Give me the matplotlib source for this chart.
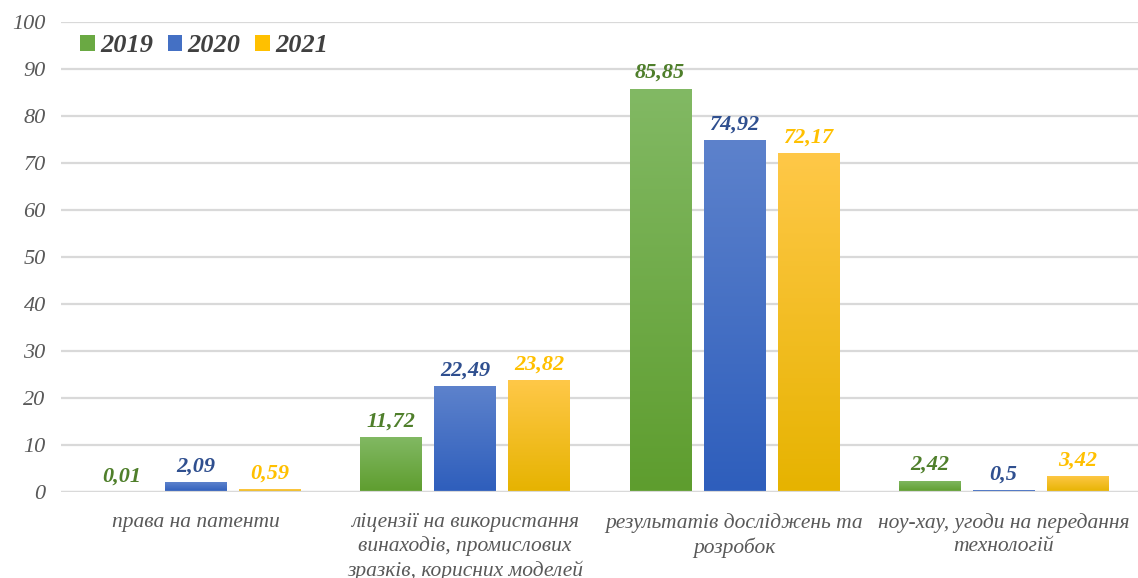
import matplotlib
matplotlib.use("Agg")
import matplotlib.pyplot as plt
import numpy as np
from matplotlib.colors import LinearSegmentedColormap

categories = ["права на патенти",
              "ліцензії на використання\nвинаходів, промислових\nзразків, корисних моделей",
              "результатів досліджень та\nрозробок",
              "ноу-хау, угоди на передання\nтехнологій"]
years = ["2019", "2020", "2021"]
v2019 = [0.01, 11.72, 85.85, 2.42]
v2020 = [2.09, 22.49, 74.92, 0.5]
v2021 = [0.59, 23.82, 72.17, 3.42]
labels2019 = ["0,01", "11,72", "85,85", "2,42"]
labels2020 = ["2,09", "22,49", "74,92", "0,5"]
labels2021 = ["0,59", "23,82", "72,17", "3,42"]
yticks = [0, 10, 20, 30, 40, 50, 60, 70, 80, 90, 100]

series = [v2019, v2020, v2021]
series_labels = [labels2019, labels2020, labels2021]
top_cols = ["#82b964", "#5d82cc", "#ffc848"]
bot_cols = ["#5e9d2e", "#2e5ebc", "#e6b300"]
legend_cols = ["#6aa943", "#4470c4", "#ffc000"]
text_cols = ["#4f7f2b", "#2f4f8f", "#ffc000"]

plt.rcParams['font.family'] = ['Liberation Serif', 'DejaVu Serif']

fig = plt.figure(figsize=(11.38, 5.78), dpi=100)
ax = fig.add_axes([61/1138, 1-492/578, 1-61/1138, (492-22)/578])
ax.set_xlim(-0.5, 3.5)
ax.set_ylim(0, 100)

x = np.arange(len(categories))
w = 0.227
step = 0.275
for i, (vals, labs) in enumerate(zip(series, series_labels)):
    cmap = LinearSegmentedColormap.from_list("g%d" % i, [bot_cols[i], top_cols[i]])
    grad = np.linspace(0, 1, 256).reshape(-1, 1)
    bars = ax.bar(x + (i - 1) * step, vals, width=w, color=legend_cols[i], zorder=3,
                  label=years[i])
    for b, lab in zip(bars, labs):
        bx, by = b.get_x(), b.get_y()
        bw, bh = b.get_width(), b.get_height()
        if bh > 0.3:
            im = ax.imshow(grad, cmap=cmap, aspect='auto', origin='lower',
                           extent=[bx, bx + bw, by, by + bh], zorder=3.5)
            im.set_clip_path(b)
        ax.annotate(lab, (bx + bw / 2, by + bh), xytext=(0, 4), textcoords='offset points',
                    ha='center', va='bottom', fontsize=16, fontweight='bold',
                    fontstyle='italic', color=text_cols[i], zorder=5)
ax.set_xlim(-0.5, 3.5)
ax.set_ylim(0, 100)

ax.set_yticks(yticks)
ax.set_yticklabels([str(t) for t in yticks], fontsize=16, fontstyle='italic', color='#595959')
ax.set_xticks(x)
ax.set_xticklabels(categories, fontsize=15.5, fontstyle='italic', color='#595959',
                   linespacing=1.3, va='top')
ax.tick_params(axis='both', length=0)
ax.tick_params(axis='y', pad=11)
ax.tick_params(axis='x', pad=15)
ax.grid(axis='y', color='#d9d9d9', linewidth=1.6, zorder=0)
for s in ax.spines.values():
    s.set_visible(False)
ax.axhline(0, color='#d9d9d9', linewidth=1.6, zorder=4)

leg = ax.legend(loc='upper left', bbox_to_anchor=(-0.004, 1.025), ncol=3, frameon=False,
                handlelength=0.55, handleheight=0.55, handletextpad=0.2, columnspacing=0.55,
                prop={'size': 19, 'weight': 'bold', 'style': 'italic'})
for t in leg.get_texts():
    t.set_color('#404040')

fig.savefig("out.png", dpi=100)
